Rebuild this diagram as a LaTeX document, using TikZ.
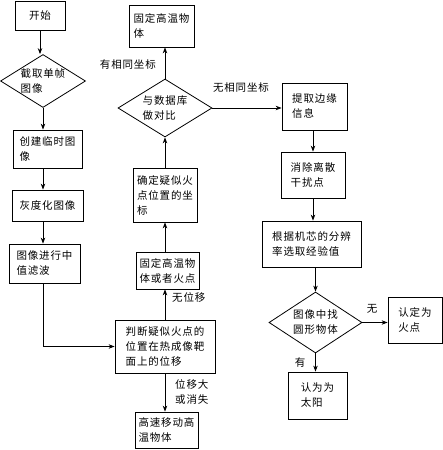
\documentclass[tikz,border=0pt]{standalone}
\usepackage{fontspec}
\setmainfont{Noto Sans CJK SC}[LetterSpace=8]
\usetikzlibrary{shapes.geometric,arrows.meta}
\begin{document}
\begin{tikzpicture}[x=1pt,y=-1pt,
  every node/.style={font=\fontsize{10.5}{15}\selectfont, inner sep=0pt},
  box/.style={draw, rectangle, align=left, line width=0.8pt},
  dia/.style={draw, diamond, align=left, line width=0.8pt},
  lbl/.style={align=left},
  arr/.style={-{Stealth[length=6pt,width=4.5pt]}, line width=0.8pt},
  ln/.style={line width=0.8pt}]
\useasboundingbox (0,0) rectangle (443,450);
% left column
\node[box, minimum width=50pt, minimum height=29pt] (start) at (40,15.5) {开始};
\node[dia, minimum width=85pt, minimum height=53pt, shape aspect=1.6] (cut) at (43,81) {截取单帧\\图像};
\node[box, minimum width=69pt, minimum height=38pt] (tmp) at (47.5,149) {创建临时图\\像};
\node[box, minimum width=71pt, minimum height=31pt] (gray) at (47.5,205.5) {灰度化图像};
\node[box, minimum width=71pt, minimum height=39pt] (median) at (44.5,263.5) {图像进行中\\值滤波};
% middle column
\node[box, minimum width=100pt, minimum height=53pt] (judge) at (165,346.5) {判断疑似火点的\\位置在热成像靶\\面上的位移};
\node[box, minimum width=63pt, minimum height=36pt] (fast) at (166.5,430) {高速移动高\\温物体};
\node[box, minimum width=63pt, minimum height=37pt] (fixfire) at (167.5,270.5) {固定高温物\\体或者火点};
\node[box, minimum width=64pt, minimum height=54pt] (coord) at (165,195) {确定疑似火\\点位置的坐\\标};
\node[dia, minimum width=94pt, minimum height=58pt, shape aspect=1.62] (cmp) at (165,108) {与数据库\\做对比};
\node[box, minimum width=65pt, minimum height=42pt] (fixed) at (161.5,26) {固定高温物\\体};
% right column
\node[box, minimum width=65pt, minimum height=47pt] (edge) at (314.5,106.5) {提取边缘\\信息};
\node[box, minimum width=64pt, minimum height=46pt] (disc) at (313,175) {消除离散\\干扰点};
\node[box, minimum width=99pt, minimum height=46pt] (resol) at (311.5,244) {根据机芯的分辨\\率选取经验值};
\node[dia, minimum width=93pt, minimum height=61pt, shape aspect=1.52] (circ) at (315.5,322.5) {图像中找\\圆形物体};
\node[box, minimum width=54pt, minimum height=46pt] (fire) at (415,320) {认定为\\火点};
\node[box, minimum width=59pt, minimum height=47pt] (sun) at (317.5,395.5) {认为为\\太阳};
% labels
\node[lbl, anchor=east] (l1) at (156,65) {有相同坐标};
\node[lbl] (l2) at (241,88) {无相同坐标};
\node[lbl, anchor=west] (l3) at (172,297) {无位移};
\node[lbl, anchor=west] (l4) at (175,392) {位移大\\或消失};
\node[lbl] (l5) at (372,309) {无};
\node[lbl] (l6) at (300,362) {有};
% connectors
\draw[arr] (start.south) -- (start.south |- cut.north);
\draw[arr] (cut.south) -- (cut.south |- tmp.north);
\draw[arr] (tmp.south -| cut.south) -- (cut.south |- gray.north);
\draw[arr] (gray.south -| cut.south) -- (cut.south |- median.north);
\draw[arr] (median.south -| cut.south) |- (judge.west);
\draw[arr] (judge.south) -- (judge.south |- fast.north);
\draw[arr] (judge.north) -- (judge.north |- fixfire.south);
\draw[arr] (fixfire.north -| judge.north) -- (judge.north |- coord.south);
\draw[arr] (coord.north) -- (cmp.south);
\draw[arr] (cmp.north) -- (cmp.north |- fixed.south);
\draw[arr] (cmp.east) -- (cmp.east -| edge.west);
\draw[arr] (edge.south -| disc.north) -- (disc.north);
\draw[arr] (disc.south) -- (disc.south |- resol.north);
\draw[arr] (resol.south -| circ.north) -- (circ.north);
\draw[arr] (circ.east) -- (circ.east -| fire.west);
\draw[arr] (circ.south) -- (circ.south |- sun.north);
\end{tikzpicture}
\end{document}
